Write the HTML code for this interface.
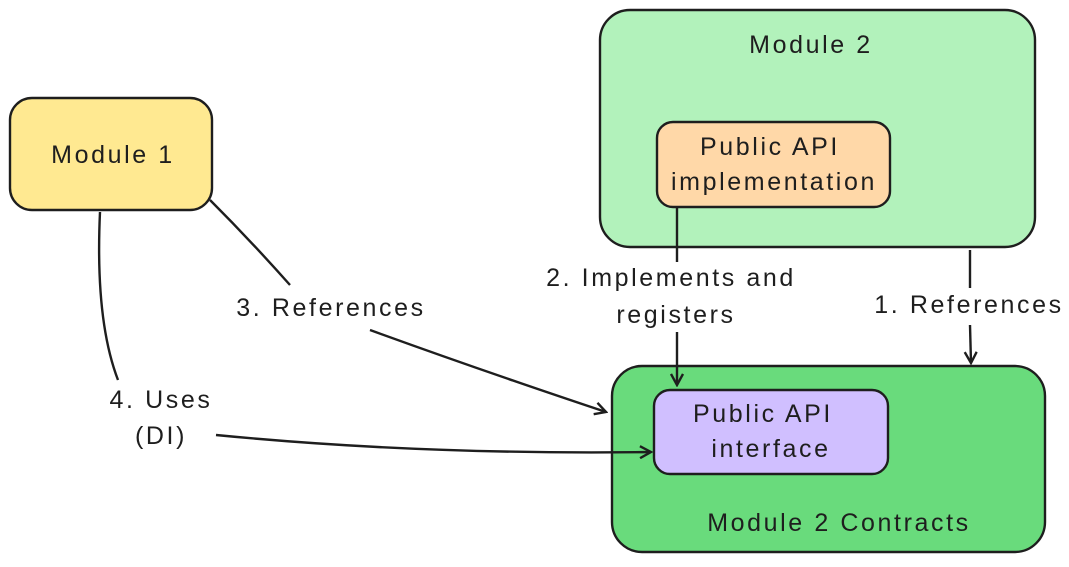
<!DOCTYPE html>
<html><head><meta charset="utf-8"><style>
body{margin:0;background:#fff;}
svg text{font-family:"Liberation Sans",sans-serif;font-size:25px;letter-spacing:2.6px;fill:#1e1e1e;text-anchor:middle;}
</style></head><body>
<svg width="1069" height="562" viewBox="0 0 1069 562" xmlns="http://www.w3.org/2000/svg">
<defs><marker id="a" markerWidth="14" markerHeight="14" refX="12" refY="7" orient="auto" markerUnits="userSpaceOnUse"><path d="M1,1 L12,7 L1,13" fill="none" stroke="#1e1e1e" stroke-width="2.4"/></marker></defs>
<g stroke="#1e1e1e" stroke-width="2.4">
<rect x="10" y="98" width="202" height="112" rx="22" fill="#ffe991"/>
<rect x="600" y="10" width="435" height="237" rx="30" fill="#b2f2bb"/>
<rect x="657" y="122" width="233" height="85" rx="16" fill="#ffd8a8"/>
<rect x="612" y="366" width="433" height="186" rx="30" fill="#69db7c"/>
<rect x="654" y="390" width="234" height="84" rx="16" fill="#d0bfff"/>
</g>
<g stroke="#1e1e1e" stroke-width="2.4" fill="none">
<path d="M970 250 L970 288"/><path d="M970 325 L971 363" marker-end="url(#a)"/>
<path d="M677 207 L677 262"/><path d="M677 332 L677 385" marker-end="url(#a)"/>
<path d="M210 200 Q250 240 290 285"/><path d="M370 330 Q480 370 606 412" marker-end="url(#a)"/>
<path d="M100 212 Q95 320 118 380"/><path d="M216 435 Q420 455 651 452" marker-end="url(#a)"/>
</g>
<text x="113" y="163">Module 1</text>
<text x="811" y="53">Module 2</text>
<text x="770" y="155">Public API</text>
<text x="774" y="190">implementation</text>
<text x="763" y="422">Public API</text>
<text x="771" y="457">interface</text>
<text x="839" y="531">Module 2 Contracts</text>
<text x="969" y="313">1. References</text>
<text x="671" y="286">2. Implements and</text>
<text x="676" y="323">registers</text>
<text x="331" y="316">3. References</text>
<text x="161" y="408">4. Uses</text>
<text x="161" y="444">(DI)</text>
</svg>
</body></html>
